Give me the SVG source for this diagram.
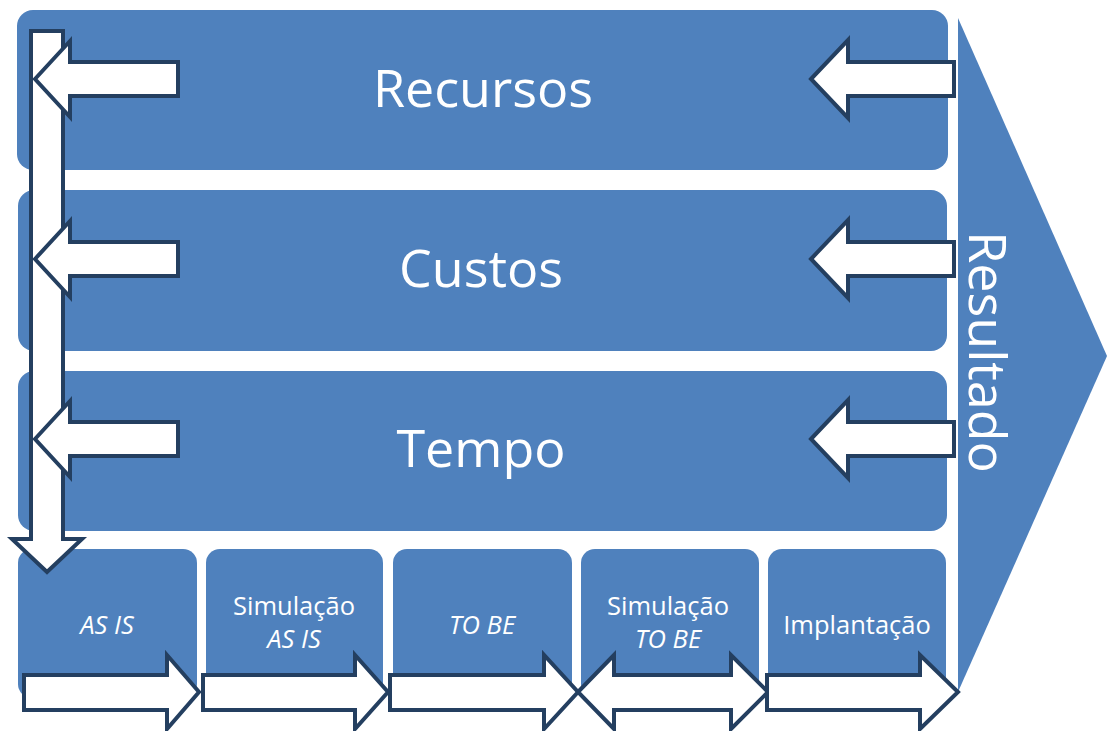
<svg xmlns="http://www.w3.org/2000/svg" width="1107" height="731" viewBox="0 0 1107 731">
  <style>
    .panel { fill: #4F81BD; }
    .big { font-family: "Open Sans", "Liberation Sans", sans-serif; font-size: 52px; fill: #FFFFFF; text-anchor: middle; }
    .small { font-family: "Open Sans", "Liberation Sans", sans-serif; font-size: 25.5px; fill: #FFFFFF; text-anchor: middle; }
    .it { font-style: italic; }
    .flow { fill: #FFFFFF; stroke: #243F60; stroke-width: 4; stroke-linejoin: miter; stroke-miterlimit: 10; }
  </style>
  <rect width="1107" height="731" fill="#FFFFFF"/>

  <!-- result chevron -->
  <g id="resultado">
    <polygon class="panel" points="958,18 1107,356 958,692"/>
    <text class="big" transform="translate(969,352) rotate(90)">Resultado</text>
  </g>

  <!-- dimension bars -->
  <g id="recursos">
    <rect class="panel" x="17" y="10" width="931" height="160" rx="16"/>
    <text class="big" x="483" y="107">Recursos</text>
  </g>
  <g id="custos">
    <rect class="panel" x="18" y="190" width="929" height="161" rx="16"/>
    <text class="big" x="481" y="287">Custos</text>
  </g>
  <g id="tempo">
    <rect class="panel" x="18" y="371" width="929" height="160" rx="16"/>
    <text class="big" x="481" y="467">Tempo</text>
  </g>

  <!-- process stages -->
  <g id="as-is">
    <rect class="panel" x="18" y="549" width="179" height="149" rx="14"/>
    <text class="small it" x="107" y="634">AS IS</text>
  </g>
  <g id="simulacao-as-is">
    <rect class="panel" x="206" y="549" width="177" height="149" rx="14"/>
    <text class="small" x="294" y="615">Simulação</text>
    <text class="small it" x="294" y="648">AS IS</text>
  </g>
  <g id="to-be">
    <rect class="panel" x="393" y="549" width="179" height="149" rx="14"/>
    <text class="small it" x="482" y="634">TO BE</text>
  </g>
  <g id="simulacao-to-be">
    <rect class="panel" x="581" y="549" width="178" height="149" rx="14"/>
    <text class="small" x="668" y="615">Simulação</text>
    <text class="small it" x="668" y="648">TO BE</text>
  </g>
  <g id="implantacao">
    <rect class="panel" x="768" y="549" width="178" height="149" rx="14"/>
    <text class="small" x="857" y="634">Implantação</text>
  </g>

  <!-- block arrows -->
  <g id="connectors">
    <!-- vertical collector -->
    <polygon class="flow" points="31,31 63,31 63,539 82,539 47,572 12,539 31,539"/>
    <!-- feedback into the collector -->
    <polygon class="flow" points="35,79 70,41 70,62 178,62 178,96 70,96 70,117"/>
    <polygon class="flow" points="35,259 70,221 70,242 178,242 178,276 70,276 70,297"/>
    <polygon class="flow" points="35,439 70,401 70,422 178,422 178,456 70,456 70,477"/>
    <!-- inputs from the result -->
    <polygon class="flow" points="811,79 848,40 848,62 954,62 954,96 848,96 848,118"/>
    <polygon class="flow" points="811,259 848,220 848,242 954,242 954,276 848,276 848,298"/>
    <polygon class="flow" points="811,439 848,400 848,422 954,422 954,456 848,456 848,478"/>
    <!-- stage sequence -->
    <polygon class="flow" points="24,675 167,675 167,655 199,692 167,729 167,710 24,710"/>
    <polygon class="flow" points="203,675 355,675 355,655 388,692 355,729 355,710 203,710"/>
    <polygon class="flow" points="390,675 544,675 544,655 578,692 544,729 544,710 390,710"/>
    <polygon class="flow" points="578,692 614,655 614,675 731,675 731,655 768,692 731,729 731,710 614,710 614,729"/>
    <polygon class="flow" points="767,675 920,675 920,655 958,692 920,729 920,710 767,710"/>
  </g>
</svg>
